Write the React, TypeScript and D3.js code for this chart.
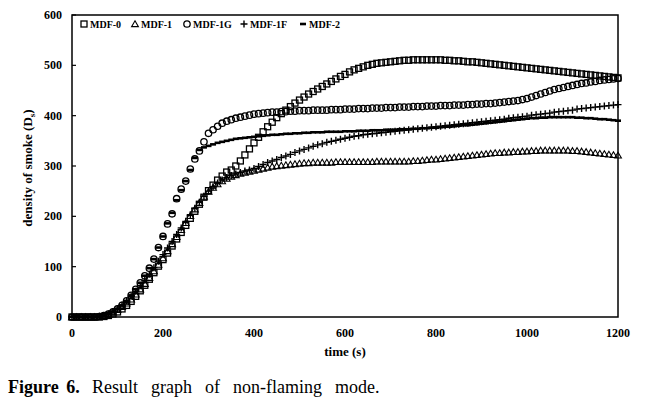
import React from "react";
import * as d3 from "d3";

const TIME_STEP = 10; // seconds between samples, first sample at t = 0

const mdf0 = [0,0,0,0,0,0,0,1,3,6,10,16,23,31,41,52,63,75,88,101,114,127,141,155,168,182,196,210,224,238,251,262,272,280,288,292,300,310,322,334,346,357,368,378,387,396,404,411,418,425,431,437,443,448,453,458,463,468,473,478,482,487,491,494,497,500,502,504,505,506,507,508,509,510,510,511,511,511,511,511,511,511,510,510,509,509,508,507,507,506,505,504,503,502,501,500,499,498,497,496,495,494,493,492,491,490,489,488,487,486,485,484,483,482,481,480,479,478,477,476,475];
const mdf1 = [0,0,0,0,0,0,1,2,5,9,14,20,27,35,45,55,66,78,91,104,117,131,145,159,173,187,201,214,227,239,249,257,264,270,275,279,282,285,287,289,291,293,295,297,299,300,301,302,303,304,305,306,306,307,307,307,307,307,308,308,308,308,308,308,308,308,308,309,309,309,309,309,309,309,309,310,310,311,312,313,313,314,315,316,317,318,319,320,321,322,323,324,325,326,326,327,327,328,328,329,329,330,330,331,331,331,331,331,331,331,330,330,329,328,327,326,325,324,323,322,321];
const mdf1g = [0,0,0,0,0,0,1,3,6,10,16,23,32,43,55,68,82,97,115,138,160,185,205,235,254,270,294,314,330,348,365,372,379,385,389,392,395,397,399,401,403,404,405,406,407,407,408,408,409,409,410,410,410,411,411,411,411,412,412,412,413,413,413,414,414,414,415,415,415,416,416,416,417,417,417,418,418,418,419,419,419,420,420,420,421,421,421,422,422,423,423,424,424,425,426,427,428,429,430,432,434,437,440,443,446,449,452,454,456,458,460,462,464,465,467,468,470,471,472,473,474];
const mdf1f = [0,0,0,0,0,0,1,3,6,11,17,24,32,41,51,62,73,85,98,111,124,137,150,164,177,190,203,216,228,240,250,259,266,272,277,281,284,287,290,292,295,299,303,307,310,313,317,320,323,327,330,333,336,339,342,344,347,349,351,353,355,357,359,360,362,363,364,365,366,367,368,369,370,371,372,373,374,375,376,377,378,379,380,381,382,383,384,385,386,387,388,389,390,391,392,393,395,396,397,398,399,401,402,403,404,405,407,408,409,410,411,413,414,415,416,417,418,419,420,421,422];
const mdf2 = [0,0,0,0,0,0,1,3,6,10,16,23,32,43,55,68,82,97,115,138,160,186,207,232,252,270,292,316,332,337,340,343,346,348,350,352,354,355,356,357,358,359,360,361,362,362,363,364,364,365,365,366,366,367,367,367,368,368,368,368,369,369,369,370,370,370,371,371,371,372,372,372,373,373,373,374,374,375,375,376,376,377,378,378,379,380,381,381,382,383,384,385,386,387,388,389,390,391,392,393,394,395,395,396,396,397,397,397,397,397,397,396,396,395,395,394,393,393,392,391,390];

const seriesNames = ["MDF-0", "MDF-1", "MDF-1G", "MDF-1F", "MDF-2"];
const seriesValues = [mdf0, mdf1, mdf1g, mdf1f, mdf2];
const xTicks = [0, 200, 400, 600, 800, 1000, 1200];
const yTicks = [0, 100, 200, 300, 400, 500, 600];

const W = 650, H = 416;
const M = { left: 72, right: 618, top: 15, bottom: 317 };
const FONT = "'Liberation Serif', 'Times New Roman', serif";

function Marker({ kind, x, y }: { kind: number; x: number; y: number }) {
  const s = "#000";
  switch (kind) {
    case 0:
      return <rect x={x - 3} y={y - 3} width={6} height={6} fill="none" stroke={s} strokeWidth={1.3} />;
    case 1:
      return <path d={`M${x},${y - 3.2}L${x + 3.4},${y + 2.6}L${x - 3.4},${y + 2.6}Z`} fill="none" stroke={s} strokeWidth={1.1} />;
    case 2:
      return <circle cx={x} cy={y} r={3.2} fill="none" stroke={s} strokeWidth={1.3} />;
    case 3:
      return <path d={`M${x - 3.5},${y}H${x + 3.5}M${x},${y - 3.5}V${y + 3.5}`} stroke={s} strokeWidth={1.4} />;
    default:
      return <line x1={x - 3} x2={x + 3} y1={y} y2={y} stroke={s} strokeWidth={2.6} />;
  }
}

export default function App() {
  const x = d3.scaleLinear().domain([0, 1200]).range([M.left, M.right]);
  const y = d3.scaleLinear().domain([0, 600]).range([M.bottom, M.top]);

  const legendItems = [
    { sx: 84, tx: 90 },
    { sx: 135, tx: 141 },
    { sx: 187, tx: 193 },
    { sx: 244, tx: 250 },
    { sx: 303, tx: 309 },
  ];

  return (
    <svg width={W} height={H} style={{ display: "block", position: "absolute", left: 0, top: 0 }} fontFamily={FONT}>
      <rect width={W} height={H} fill="#fff" />
      {seriesValues.map((vals, si) => (
        <g key={si}>
          {vals.map((v, i) => (
            <Marker key={i} kind={si} x={x(i * TIME_STEP)} y={y(v)} />
          ))}
        </g>
      ))}
      <rect x={M.left} y={M.top} width={M.right - M.left} height={M.bottom - M.top} fill="none" stroke="#000" strokeWidth={1.5} />
      {yTicks.map((t) => (
        <g key={t}>
          <line x1={M.left} x2={M.left + 4} y1={y(t)} y2={y(t)} stroke="#000" strokeWidth={1.2} />
          <text x={62} y={y(t) + 4} textAnchor="end" fontSize={12} fontWeight="bold">{t}</text>
        </g>
      ))}
      {xTicks.map((t) => (
        <text key={t} x={x(t)} y={337} textAnchor="middle" fontSize={12} fontWeight="bold">{t}</text>
      ))}
      <text x={345} y={356} textAnchor="middle" fontSize={13} fontWeight="bold">time (s)</text>
      <text transform={`translate(32,168) rotate(-90)`} textAnchor="middle" fontSize={13} fontWeight="bold">
        density of smoke (D<tspan fontSize={9} dy={3}>s</tspan><tspan dy={-3}>)</tspan>
      </text>
      {legendItems.map((l, i) => (
        <g key={i}>
          <Marker kind={i} x={l.sx} y={24} />
          <text x={l.tx} y={27.5} fontSize={10} fontWeight="bold">{seriesNames[i]}</text>
        </g>
      ))}
      <text x={8} y={393} fontSize={18}>
        <tspan fontWeight="bold" wordSpacing={3}>Figure 6.</tspan>
        <tspan x={92} wordSpacing={8.5}>Result graph of non-flaming mode.</tspan>
      </text>
    </svg>
  );
}
